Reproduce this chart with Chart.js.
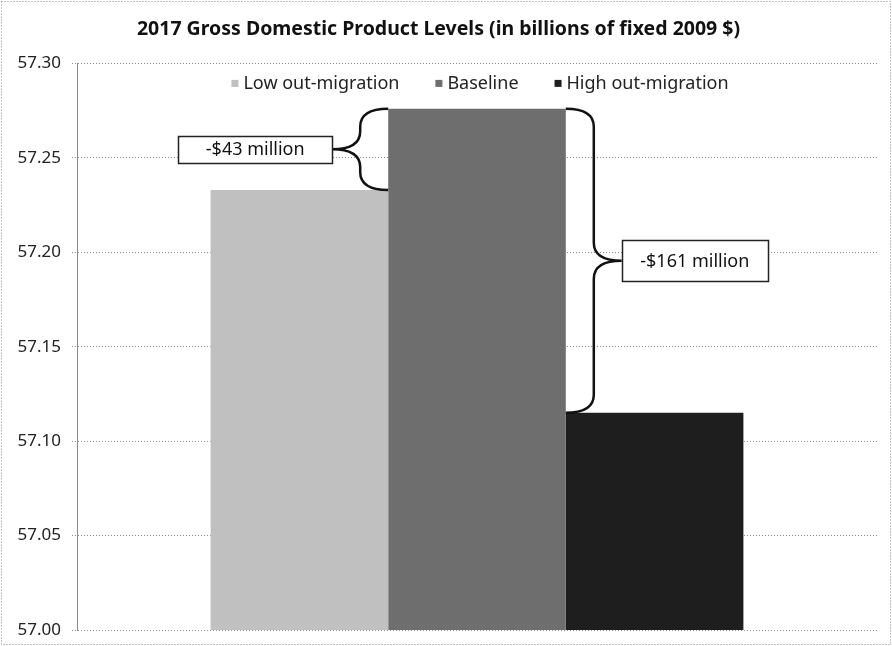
<!DOCTYPE html>
<html lang="en">
<head>
<meta charset="UTF-8">
<title>2017 Gross Domestic Product Levels</title>
<script src="https://cdn.jsdelivr.net/npm/chart.js"></script>
<style>
  html, body { margin: 0; padding: 0; background: #fff; }
  #wrap { width: 892px; height: 646px; }
</style>
</head>
<body>
<div id="wrap"><canvas id="myChart" width="892" height="646"></canvas></div>
<script>
// data (billions of fixed 2009 $)
const categories = ['2017'];
const seriesNames = ['Low out-migration', 'Baseline', 'High out-migration'];
const gdpValues = [57.233, 57.276, 57.115];
const yMin = 57.00;
const yMax = 57.30;
const yStep = 0.05;

const seriesColors = ['#c0c0c0', '#6e6e6e', '#1e1e1e'];
const FONT = "'Noto Sans', 'DejaVu Sans', sans-serif";

// brace labels, computed from the data (difference to Baseline, in millions)
function diffLabel(i) {
    const d = Math.round((gdpValues[i] - gdpValues[1]) * 1000);
    return (d < 0 ? '-' : '') + '$' + Math.abs(d) + ' million';
}
const braceStyles = [
    { series: 0, side: -1, boxW: 154, boxH: 27 },
    { series: 2, side: 1, boxW: 146, boxH: 41 }
];

function drawBrace(ctx, x, yTop, yBot, dir) {
    const ym = (yTop + yBot) / 2;
    const d1 = 28 * dir, d2 = 56 * dir;
    const r = Math.min(18, (yBot - yTop) / 4);
    ctx.beginPath();
    ctx.moveTo(x, yTop);
    ctx.quadraticCurveTo(x + d1, yTop, x + d1, yTop + r);
    ctx.lineTo(x + d1, ym - r);
    ctx.quadraticCurveTo(x + d1, ym, x + d2, ym);
    ctx.quadraticCurveTo(x + d1, ym, x + d1, ym + r);
    ctx.lineTo(x + d1, yBot - r);
    ctx.quadraticCurveTo(x + d1, yBot, x, yBot);
    ctx.stroke();
    return { x: x + d2, y: ym };
}

const extrasPlugin = {
    id: 'extras',
    beforeDraw(chart) {
        const ctx = chart.ctx;
        ctx.save();
        ctx.fillStyle = '#fff';
        ctx.fillRect(0, 0, chart.width, chart.height);
        ctx.setLineDash([1, 2]);
        ctx.strokeStyle = '#888';
        ctx.lineWidth = 1;
        ctx.strokeRect(1.5, 1.5, chart.width - 3, chart.height - 3);
        ctx.restore();
    },
    afterDatasetsDraw(chart) {
        const ctx = chart.ctx;
        const area = chart.chartArea;
        ctx.save();

        // legend inside the plot area
        ctx.font = '18px ' + FONT;
        ctx.textBaseline = 'middle';
        const box = 7, gapText = 5, gapItem = 36;
        const widths = seriesNames.map(n => box + gapText + ctx.measureText(n).width);
        const total = widths.reduce((a, b) => a + b, 0) + gapItem * (widths.length - 1);
        let lx = (area.left + area.right) / 2 - total / 2 + 3;
        const ly = area.top + 20;
        seriesNames.forEach((n, i) => {
            ctx.fillStyle = seriesColors[i];
            ctx.fillRect(lx, ly - box / 2, box, box);
            ctx.fillStyle = '#222';
            ctx.textAlign = 'left';
            ctx.fillText(n, lx + box + gapText, ly);
            lx += widths[i] + gapItem;
        });

        // braces and their labels
        const base = chart.getDatasetMeta(1).data[0];
        const baseLeft = base.x - base.width / 2;
        const baseRight = base.x + base.width / 2;
        braceStyles.forEach(b => {
            const other = chart.getDatasetMeta(b.series).data[0];
            const x = b.side < 0 ? baseLeft : baseRight;
            const top = Math.min(base.y, other.y), bot = Math.max(base.y, other.y);
            ctx.strokeStyle = '#111';
            ctx.lineWidth = 2.5;
            const tip = drawBrace(ctx, x, top, bot, b.side);
            const bx = b.side < 0 ? tip.x - b.boxW : tip.x;
            const by = tip.y - b.boxH / 2;
            ctx.fillStyle = '#fff';
            ctx.fillRect(bx, by, b.boxW, b.boxH);
            ctx.lineWidth = 1.5;
            ctx.strokeStyle = '#222';
            ctx.strokeRect(Math.round(bx) + 0.5, Math.round(by) + 0.5, b.boxW, b.boxH);
            ctx.fillStyle = '#111';
            ctx.textAlign = 'center';
            ctx.font = '18px ' + FONT;
            ctx.fillText(diffLabel(b.series), bx + b.boxW / 2, tip.y + 1);
        });
        ctx.restore();
    }
};

const config = {
    type: 'bar',
    data: {
        labels: categories,
        datasets: seriesNames.map((name, i) => ({
            label: name,
            data: [gdpValues[i]],
            backgroundColor: seriesColors[i],
            borderWidth: 0,
            barPercentage: 1,
            categoryPercentage: 0.666
        }))
    },
    options: {
        responsive: false,
        animation: false,
        layout: { padding: { top: 0, right: 15, bottom: 16, left: 0 } },
        plugins: {
            legend: { display: false },
            tooltip: { enabled: false },
            title: {
                display: true,
                text: '2017 Gross Domestic Product Levels (in billions of fixed 2009 $)',
                color: '#111',
                font: { family: FONT, size: 19.5, weight: 'bold' },
                padding: { top: 18, bottom: 22 }
            }
        },
        scales: {
            x: { display: false },
            y: {
                min: yMin,
                max: yMax,
                afterFit(scale) {
                    scale.width = 77;
                    scale.paddingTop = 0;
                    scale.paddingBottom = 0;
                },
                ticks: {
                    stepSize: yStep,
                    padding: 11,
                    color: '#222',
                    font: { family: FONT, size: 17 },
                    callback: v => Number(v).toFixed(2)
                },
                grid: {
                    color: '#8a8a8a',
                    lineWidth: 1,
                    tickLength: 5
                },
                border: { display: true, color: '#8a8a8a', dash: [1, 2] }
            }
        }
    },
    plugins: [extrasPlugin]
};
config.options.scales.y.grid.borderDash = [1, 2];
config.options.scales.y.grid.tickBorderDash = [1, 2];

const ctx = document.getElementById('myChart').getContext('2d');
new Chart(ctx, config);
</script>
</body>
</html>
